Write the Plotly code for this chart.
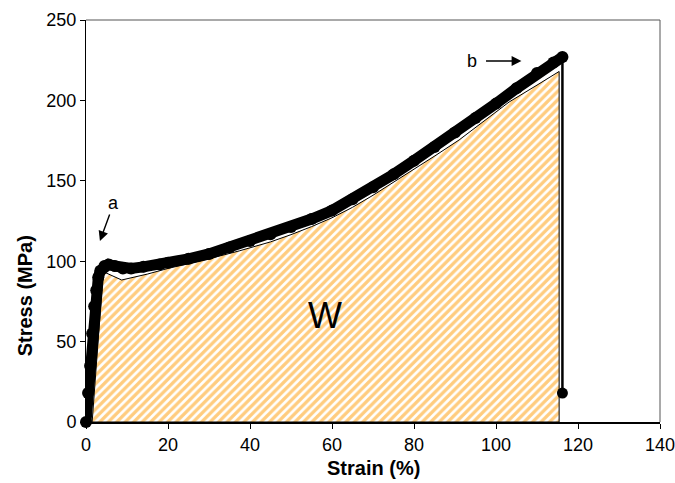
import plotly.graph_objects as go

# Measured stress-strain curve (markers)
strain = [0, 0.5, 1.0, 1.5, 2.0, 2.5, 3.0, 3.5, 4.5, 5.5, 7.0, 9.0, 11.0, 14.0, 18.0, 20.0,
          25.0, 30.0, 35.0, 40.0, 45.0, 50.0, 55.0, 60.0, 65.0, 70.0, 75.0, 80.0, 85.0,
          90.0, 95.0, 100.0, 105.0, 110.0, 114.0, 116.2]
stress = [0, 18, 35, 55, 72, 82, 90, 94, 97, 98, 97, 95.5, 95.5, 96.5, 98, 99,
          101.5, 104.5, 108.5, 112.5, 116.8, 121.2, 126.2, 131.5, 138.5, 146, 154, 162.5, 171,
          180, 189, 198, 207.5, 217, 223.5, 227]

# Fracture drop
drop_strain = [116.2, 116.2]
drop_stress = [227, 18]

# Energy area W (hatched region)
w_strain = [1.5, 4.2, 8.7, 15, 20, 25, 30, 37.5, 45, 50, 55, 60, 65, 70, 75, 80, 85.4, 91, 97,
            103.2, 110, 115.4, 115.4, 1.5]
w_stress = [0, 93.5, 88.3, 92, 95.5, 98.5, 101.5, 106.5, 112, 116.5, 121.5, 127, 133.5, 141,
            149, 157, 166, 175.4, 187, 199, 209.5, 218, 0, 0]

x_ticks = [0, 20, 40, 60, 80, 100, 120, 140]
y_ticks = [0, 50, 100, 150, 200, 250]

fig = go.Figure()

fig.add_trace(go.Scatter(
    x=w_strain, y=w_stress, mode="lines", fill="toself",
    fillcolor="white",
    fillpattern=dict(shape="/", fgcolor="#FF9A00", bgcolor="white", size=6, solidity=0.55),
    line=dict(color="black", width=1), hoverinfo="skip", showlegend=False, cliponaxis=False))

fig.add_trace(go.Scatter(
    x=drop_strain, y=drop_stress, mode="lines",
    line=dict(color="black", width=2.5),
    showlegend=False, cliponaxis=False))
fig.add_trace(go.Scatter(
    x=drop_strain[1:], y=drop_stress[1:], mode="markers",
    marker=dict(color="black", size=11),
    showlegend=False, cliponaxis=False))

fig.add_trace(go.Scatter(
    x=strain, y=stress, mode="lines+markers",
    line=dict(color="black", width=11),
    marker=dict(color="black", size=12),
    showlegend=False, cliponaxis=False))

font = "Liberation Sans, Arial, sans-serif"

fig.add_annotation(x=58.2, y=66.5, text="W", showarrow=False,
                   font=dict(family=font, size=36, color="black"))
fig.add_annotation(x=6.6, y=136, text="a", showarrow=False,
                   font=dict(family=font, size=18, color="black"))
fig.add_annotation(x=3.4, y=112.6, ax=5.9, ay=130, axref="x", ayref="y", xref="x", yref="y",
                   text="", showarrow=True, arrowhead=2, arrowsize=1.4, arrowwidth=1.4,
                   arrowcolor="black")
fig.add_annotation(x=94.2, y=224.5, text="b", showarrow=False,
                   font=dict(family=font, size=18, color="black"))
fig.add_annotation(x=106.2, y=224.5, ax=97.2, ay=224.5, axref="x", ayref="y", xref="x", yref="y",
                   text="", showarrow=True, arrowhead=2, arrowsize=1.4, arrowwidth=1.4,
                   arrowcolor="black")

# axis titles
fig.add_annotation(xref="paper", yref="paper", x=0.5, y=-0.114, yanchor="middle",
                   text="<b>Strain (%)</b>", showarrow=False,
                   font=dict(family=font, size=20, color="black"))
fig.add_annotation(xref="paper", yref="paper", x=-0.106, y=0.313, xanchor="center", yanchor="middle",
                   textangle=-90, text="<b>Stress (MPa)</b>", showarrow=False,
                   font=dict(family=font, size=20, color="black"))

# top and right frame lines
fig.add_shape(type="line", xref="paper", yref="paper", x0=0, x1=1, y0=1, y1=1,
              line=dict(color="#555555", width=1))
fig.add_shape(type="line", xref="paper", yref="paper", x0=1, x1=1, y0=0, y1=1,
              line=dict(color="#555555", width=1))

fig.update_layout(
    width=675, height=483,
    margin=dict(l=86, r=15, t=20, b=61),
    paper_bgcolor="white", plot_bgcolor="white",
    font=dict(family=font, size=18, color="black"),
    xaxis=dict(range=[0, 140], tickvals=x_ticks, showgrid=False, zeroline=False,
               showline=True, linecolor="black", linewidth=2, automargin=False,
               ticklabeloverflow="allow",
               ticks="outside", ticklen=5, tickcolor="black"),
    yaxis=dict(range=[0, 250], tickvals=y_ticks, showgrid=False, zeroline=False,
               showline=True, linecolor="black", linewidth=1, automargin=False,
               ticks="outside", ticklen=5, tickcolor="black"),
)

fig.write_html(
    "out.html",
    config={"displayModeBar": False},
    post_script="document.documentElement.style.margin='0';document.body.style.margin='0';"
                "document.body.style.overflow='hidden';",
)
